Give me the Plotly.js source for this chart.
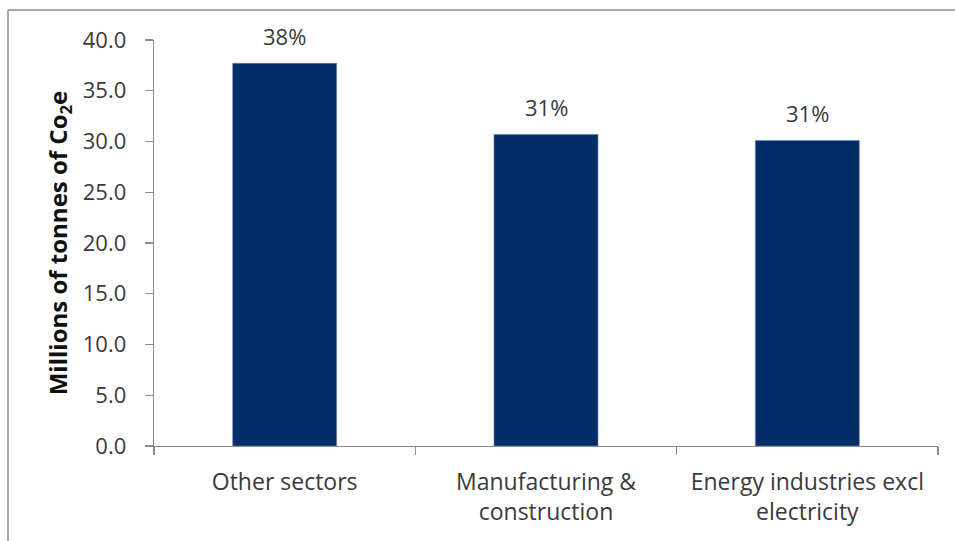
<!DOCTYPE html>
<html>
<head>
<meta charset="utf-8">
<script src="https://cdn.plot.ly/plotly-3.0.1.min.js"></script>
<style>html,body{margin:0;padding:0;background:#fff;}#chart{width:955px;height:541px;}</style>
</head>
<body>
<div id="chart"></div>
<script>
const categories = ["Other sectors", "Manufacturing &<br>construction", "Energy industries excl<br>electricity"];
const values = [37.7, 30.7, 30.1];
const shareLabels = ["38%", "31%", "31%"];
const yTickValues = [0, 5, 10, 15, 20, 25, 30, 35, 40];

const W = 955, H = 541;
const margin = {l: 154, r: 17, t: 40, b: 95};
const pw = W - margin.l - margin.r, ph = H - margin.t - margin.b;
const px2x = p => (p - margin.l) / pw;
const py2y = p => (H - margin.b - p) / ph;

const font = "'Open Sans', 'Noto Sans', sans-serif";
const textColor = "#3a3a3a";
const trace = {
  type: "bar",
  x: categories,
  y: values,
  marker: {color: "#032D69", line: {color: "#6f84a8", width: 0.6}},
  hoverinfo: "none"
};

const annotations = categories.map((c, i) => ({
  x: c, y: values[i], xref: "x", yref: "y",
  text: shareLabels[i], showarrow: false,
  yshift: 27, font: {family: font, size: 22, color: textColor}
}));

const layout = {
  width: W, height: H,
  margin: margin,
  paper_bgcolor: "#ffffff", plot_bgcolor: "#ffffff",
  showlegend: false,
  bargap: 0.602,
  xaxis: {
    showline: true, linecolor: "#8c8c8c", linewidth: 1.3,
    ticks: "outside", tickson: "boundaries", ticklen: 8, tickcolor: "#8c8c8c", tickwidth: 1.3,
    ticklabelstandoff: 15,
    showgrid: false, zeroline: false,
    tickfont: {family: font, size: 23, color: textColor},
    fixedrange: true
  },
  yaxis: {
    range: [0, 40], tickvals: yTickValues, tickformat: ".1f",
    showline: true, linecolor: "#8c8c8c", linewidth: 1.3,
    ticks: "outside", ticklen: 8, tickcolor: "#8c8c8c", tickwidth: 1.3,
    ticklabelstandoff: 14,
    showgrid: false, zeroline: false,
    tickfont: {family: font, size: 22, color: textColor},
    title: {text: "<b>Millions of tonnes of Co<sub>2</sub>e</b>", standoff: 8,
            font: {family: font, size: 24, color: "#111111"}},
    fixedrange: true
  },
  annotations: annotations,
  shapes: [
    {type: "line", xref: "paper", yref: "paper", x0: px2x(8), x1: px2x(8), y0: py2y(10), y1: py2y(545),
     line: {color: "#8c8c8c", width: 1.5}},
    {type: "line", xref: "paper", yref: "paper", x0: px2x(8), x1: px2x(960), y0: py2y(10), y1: py2y(10),
     line: {color: "#8c8c8c", width: 1.5}}
  ]
};

Plotly.newPlot("chart", [trace], layout, {displayModeBar: false, staticPlot: true});
</script>
</body>
</html>
